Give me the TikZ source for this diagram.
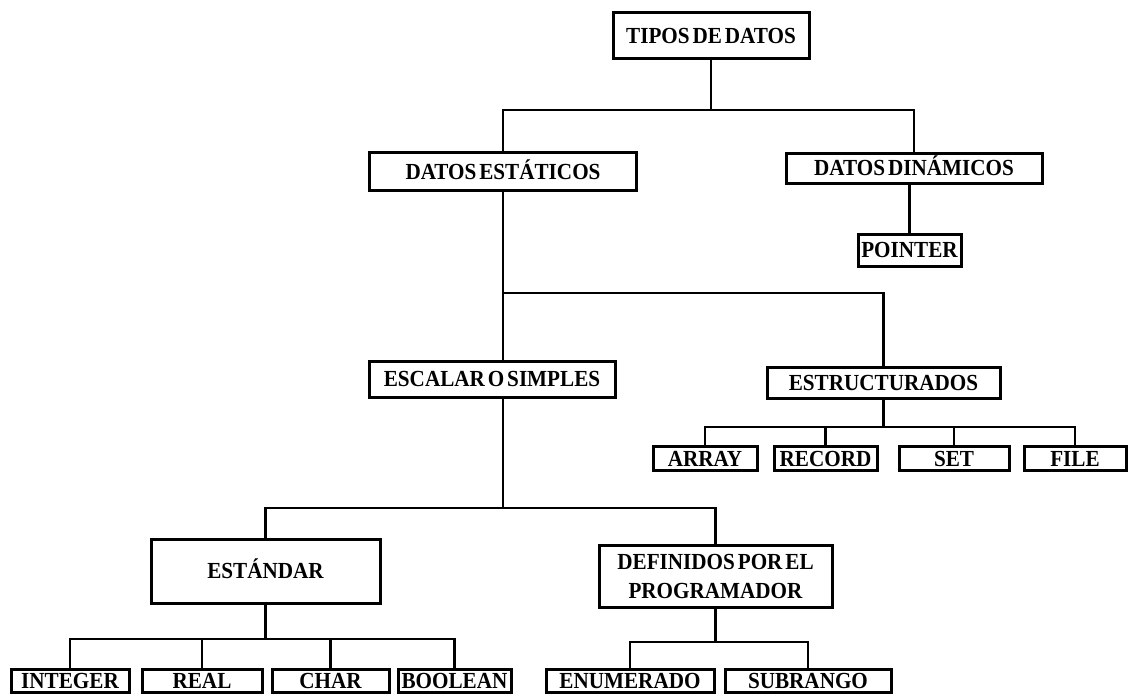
\documentclass[tikz,border=0pt]{standalone}
\usepackage{fontspec}
\newfontfamily\boxfont[FakeStretch=0.92,WordSpace=0.55]{Liberation Serif}
\usetikzlibrary{shadows}
\begin{document}
\begin{tikzpicture}[x=1pt,y=-1pt,
  box/.style={draw, fill=white, line width=3pt, inner sep=0pt, align=center,
    font=\boxfont\bfseries\fontsize{23}{29}\selectfont,
    drop shadow={shadow xshift=-1.5pt, shadow yshift=-1.5pt, fill=black, opacity=1}},
  line/.style={box, text height=15pt, text depth=0pt},
  link/.style={line width=2.3pt}]
\useasboundingbox (0,0) rectangle (1132,695);

% boxes
\node[line, minimum width=196pt, minimum height=46pt] (tipos)   at (711,36)    {TIPOS DE DATOS};
\node[line, minimum width=267pt, minimum height=38pt] (estat)   at (503,172)   {DATOS ESTÁTICOS};
\node[line, minimum width=256pt, minimum height=30pt] (dinam)   at (914,168.5) {DATOS DINÁMICOS};
\node[line, minimum width=103pt, minimum height=32pt] (pointer) at (909.5,250) {POINTER};
\node[line, minimum width=246pt, minimum height=36pt] (escalar) at (492,379)   {ESCALAR O SIMPLES};
\node[line, minimum width=233pt, minimum height=31pt] (estruc)  at (883.5,382.5) {ESTRUCTURADOS};
\node[line, minimum width=104pt, minimum height=24pt] (array)   at (705,458.5) {ARRAY};
\node[line, minimum width=103pt, minimum height=24pt] (record)  at (825.5,458.5) {RECORD};
\node[line, minimum width=110pt, minimum height=24pt] (set)     at (954,458.5) {SET};
\node[line, minimum width=102pt, minimum height=24pt] (file)    at (1075,458.5) {FILE};
\node[line, minimum width=229pt, minimum height=64pt] (estandar) at (265.5,571) {ESTÁNDAR};
\node[box,  minimum width=233pt, minimum height=62pt] (defin)   at (715.5,576) {DEFINIDOS POR EL\\PROGRAMADOR};
\node[line, minimum width=118pt, minimum height=23pt] (integer) at (70,680.5)  {INTEGER};
\node[line, minimum width=120pt, minimum height=23pt] (real)    at (202,680.5) {REAL};
\node[line, minimum width=117pt, minimum height=23pt] (char)    at (330.5,680.5) {CHAR};
\node[line, minimum width=113pt, minimum height=23pt] (boolean) at (454.5,680.5) {BOOLEAN};
\node[line, minimum width=168pt, minimum height=23pt] (enum)    at (630,680.5) {ENUMERADO};
\node[line, minimum width=166pt, minimum height=23pt] (subr)    at (808,680.5) {SUBRANGO};

% bus levels
\coordinate (b1) at (711,110);
\coordinate (b2) at (503,293);
\coordinate (b3) at (883.5,427);
\coordinate (b4) at (503,508);
\coordinate (b5) at (265.5,639);
\coordinate (b6) at (715.5,642);

% connectors
\draw[link] (tipos.south) -- (tipos.south |- b1);
\draw[link] (estat.north) |- (b1) -| (dinam.north);
\draw[link] (dinam.south -| pointer.north) -- (pointer.north);
\draw[link] (estat.south) -- (estat.south |- escalar.north);
\draw[link] (b2) -| (estruc.north);
\draw[link] (estruc.south) -- (b3);
\draw[link] (array.north) |- (b3) -| (file.north);
\draw[link] (record.north) -- (record.north |- b3);
\draw[link] (set.north) -- (set.north |- b3);
\draw[link] (escalar.south -| estat.south) -- (b4);
\draw[link] (estandar.north) |- (b4) -| (defin.north);
\draw[link] (estandar.south) -- (b5);
\draw[link] (integer.north) |- (b5) -| (boolean.north);
\draw[link] (real.north) -- (real.north |- b5);
\draw[link] (char.north) -- (char.north |- b5);
\draw[link] (defin.south) -- (b6);
\draw[link] (enum.north) |- (b6) -| (subr.north);
\end{tikzpicture}
\end{document}
